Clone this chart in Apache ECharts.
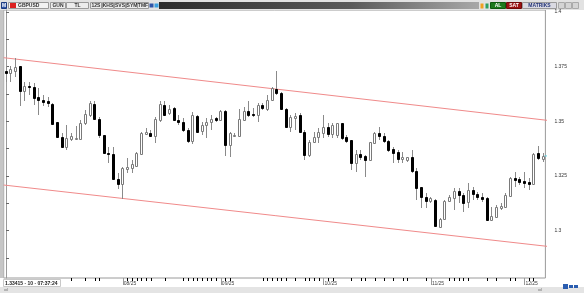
<!DOCTYPE html>
<html><head><meta charset="utf-8">
<script src="https://cdn.jsdelivr.net/npm/echarts@6/dist/echarts.min.js"></script>
<style>html,body{margin:0;padding:0;background:#fff;}#c{width:584px;height:293px;}</style>
</head><body><div id="c"></div>
<script>
const dates = ['06/27','06/30',
'07/01','07/02','07/03','07/04','07/07','07/08','07/09','07/10','07/11','07/14','07/15','07/16','07/17','07/18','07/21','07/22','07/23','07/24','07/25','07/28','07/29','07/30','07/31',
'08/01','08/04','08/05','08/06','08/07','08/08','08/11','08/12','08/13','08/14','08/15','08/18','08/19','08/20','08/21','08/22','08/25','08/26','08/27','08/28','08/29',
'09/01','09/02','09/03','09/04','09/05','09/08','09/09','09/10','09/11','09/12','09/15','09/16','09/17','09/18','09/19','09/22','09/23','09/24','09/25','09/26','09/29','09/30',
'10/01','10/02','10/03','10/06','10/07','10/08','10/09','10/10','10/13','10/14','10/15','10/16','10/17','10/20','10/21','10/22','10/23','10/24','10/27','10/28','10/29','10/30','10/31',
'11/03','11/04','11/05','11/06','11/07','11/10','11/11','11/12','11/13','11/14','11/17','11/18','11/19','11/20','11/21','11/24','11/25','11/26','11/27','11/28',
'12/01','12/02','12/03','12/04','12/05'];

const openP = [1.3732,1.3723,1.3728,1.3751,1.3639,1.3662,1.3659,1.3610,1.3598,1.3591,
1.3580,1.3495,1.3428,1.3385,1.3418,1.3418,1.3418,1.3492,1.3530,1.3578,
1.3513,1.3438,1.3357,1.3351,1.3236,1.3214,1.3283,1.3286,1.3296,1.3351,
1.3443,1.3446,1.3431,1.3507,1.3575,1.3537,1.3560,1.3507,1.3495,1.3461,
1.3412,1.3525,1.3458,1.3484,1.3499,1.3514,1.3507,1.3549,1.3392,1.3434,
1.3434,1.3507,1.3549,1.3534,1.3530,1.3575,1.3556,1.3598,1.3649,1.3629,
1.3556,1.3476,1.3514,1.3529,1.3453,1.3346,1.3407,1.3430,1.3445,1.3476,
1.3442,1.3438,1.3491,1.3427,1.3415,1.3308,1.3351,1.3342,1.3323,1.3403,
1.3445,1.3433,1.3412,1.3372,1.3362,1.3327,1.3323,1.3339,1.3275,1.3198,
1.3153,1.3138,1.3141,1.3015,1.3052,1.3137,1.3148,1.3183,1.3164,1.3133,
1.3186,1.3168,1.3153,1.3148,1.3049,1.3064,1.3103,1.3107,1.3159,1.3240,
1.3235,1.3229,1.3224,1.3214,1.3354,1.3330];

const closeP = [1.3720,1.3738,1.3748,1.3639,1.3662,1.3655,1.3609,1.3598,1.3588,1.3583,
1.3489,1.3428,1.3385,1.3423,1.3431,1.3423,1.3492,1.3534,1.3583,1.3510,
1.3438,1.3357,1.3351,1.3236,1.3214,1.3286,1.3290,1.3306,1.3357,1.3446,
1.3453,1.3434,1.3510,1.3580,1.3530,1.3556,1.3507,1.3495,1.3461,1.3412,
1.3530,1.3453,1.3484,1.3499,1.3510,1.3507,1.3549,1.3392,1.3446,1.3438,
1.3510,1.3549,1.3530,1.3528,1.3575,1.3560,1.3598,1.3652,1.3629,1.3556,
1.3473,1.3518,1.3525,1.3453,1.3346,1.3407,1.3427,1.3453,1.3476,1.3442,
1.3483,1.3491,1.3423,1.3412,1.3308,1.3351,1.3336,1.3323,1.3407,1.3445,
1.3433,1.3412,1.3369,1.3357,1.3327,1.3336,1.3336,1.3275,1.3194,1.3153,
1.3138,1.3148,1.3022,1.3052,1.3137,1.3153,1.3183,1.3164,1.3128,1.3186,
1.3168,1.3153,1.3144,1.3049,1.3067,1.3107,1.3113,1.3164,1.3240,1.3232,
1.3224,1.3217,1.3214,1.3351,1.3331,1.3342];

const highP = [1.3751,1.3751,1.3789,1.3753,1.3682,1.3682,1.3674,1.3652,1.3621,1.3613,
1.3583,1.3499,1.3446,1.3484,1.3446,1.3479,1.3507,1.3553,1.3591,1.3591,
1.3519,1.3438,1.3385,1.3385,1.3263,1.3293,1.3332,1.3324,1.3362,1.3453,
1.3469,1.3461,1.3522,1.3595,1.3595,1.3575,1.3565,1.3530,1.3514,1.3469,
1.3545,1.3530,1.3499,1.3514,1.3530,1.3522,1.3553,1.3550,1.3453,1.3446,
1.3556,1.3565,1.3591,1.3560,1.3583,1.3586,1.3621,1.3659,1.3728,1.3632,
1.3560,1.3529,1.3537,1.3537,1.3461,1.3415,1.3453,1.3468,1.3529,1.3491,
1.3491,1.3494,1.3494,1.3438,1.3415,1.3369,1.3369,1.3346,1.3407,1.3453,
1.3476,1.3445,1.3415,1.3384,1.3369,1.3362,1.3339,1.3369,1.3285,1.3202,
1.3171,1.3156,1.3144,1.3057,1.3141,1.3164,1.3194,1.3194,1.3171,1.3217,
1.3202,1.3179,1.3171,1.3156,1.3110,1.3118,1.3125,1.3171,1.3247,1.3270,
1.3247,1.3270,1.3240,1.3354,1.3387,1.3354];

const lowP = [1.3682,1.3682,1.3705,1.3568,1.3591,1.3621,1.3575,1.3530,1.3568,1.3565,
1.3487,1.3423,1.3377,1.3370,1.3408,1.3415,1.3415,1.3484,1.3522,1.3507,
1.3423,1.3354,1.3309,1.3233,1.3190,1.3144,1.3263,1.3263,1.3293,1.3351,
1.3438,1.3431,1.3403,1.3499,1.3525,1.3530,1.3504,1.3484,1.3453,1.3403,
1.3397,1.3446,1.3438,1.3423,1.3461,1.3499,1.3507,1.3342,1.3339,1.3431,
1.3431,1.3504,1.3522,1.3519,1.3499,1.3553,1.3549,1.3595,1.3621,1.3553,
1.3469,1.3453,1.3461,1.3445,1.3323,1.3336,1.3400,1.3400,1.3423,1.3430,
1.3423,1.3423,1.3415,1.3400,1.3278,1.3270,1.3323,1.3247,1.3320,1.3400,
1.3415,1.3400,1.3362,1.3308,1.3308,1.3308,1.3316,1.3263,1.3141,1.3103,
1.3103,1.3125,1.3019,1.3011,1.3049,1.3133,1.3095,1.3125,1.3087,1.3102,
1.3141,1.3141,1.3133,1.3046,1.3046,1.3057,1.3095,1.3103,1.3153,1.3202,
1.3209,1.3194,1.3186,1.3209,1.3323,1.3316];

// channel trend lines (anchor index, price)
const channelX = [-0.5, 117];
const upperChannel = [1.3791, 1.3502];
const lowerChannel = [1.3209, 1.2926];

// last-price marker span (index units)
const lastMarkX = [115.3, 116.6];

// y-axis ticks and labels
const yLabels = [1.3, 1.325, 1.35, 1.375, 1.4];
const yTicks = [1.2875, 1.3, 1.3125, 1.325, 1.3375, 1.35, 1.3625, 1.375, 1.3875, 1.4];
const yMin = 1.2784, yMax = 1.4009;

// news / event markers along the time axis (candle indices)
const eventIdx = [14,17,19,20,26,27,28,29,30,31,34,38,39,40,41,42,43,44,45,47,48,55,56,57,58,59,60,62,64,65,66,67,69,70,74,76,77,79,81,83,85,86,90,95,96,97,98,99,103,105,108,109,112,113];

const statusText = '1.33415 - 10 - 07:37:24';

const candleData = dates.map((d, i) => [i, openP[i], closeP[i], lowP[i], highP[i]]);
const eventSet = new Set(eventIdx);
const isMonthStart = (i) => i > 10 && dates[i].slice(0, 2) !== dates[i - 1].slice(0, 2);
const lastClose = closeP[closeP.length - 1];

const FONT = 'Liberation Sans';
function box(x, y, w, h, fill, stroke, label, color) {
  const els = [{type:'rect', shape:{x:x+0.5, y:y+0.5, width:w, height:h}, style:{fill:fill, stroke:stroke||null, lineWidth:1}}];
  if (label) els.push({type:'text', x:x+w/2+0.5, y:y+h/2+1, style:{text:label, fill:color||'#333', font:'bold 5px ' + FONT, align:'center', verticalAlign:'middle'}});
  return els;
}
const graphics = [].concat(
  [{type:'rect', shape:{x:0, y:0, width:584, height:10}, style:{fill:'#e2e2e2'}}],
  box(1, 2, 5, 6, '#2f55a8', '#1c3a80', 'M', '#fff'),
  box(8, 2, 40, 6, '#f3f3f3', '#9a9a9a'),
  [{type:'rect', shape:{x:10, y:3, width:6, height:5}, style:{fill:'#d22'}},
   {type:'text', x:18, y:6, style:{text:'GBPUSD', fill:'#333', font:'bold 5px ' + FONT, verticalAlign:'middle'}}],
  box(50, 2, 15, 6, '#ececec', '#9a9a9a', 'GUN'),
  box(66, 2, 22, 6, '#ececec', '#9a9a9a', 'TL'),
  box(90, 2, 11, 6, '#ececec', '#9a9a9a', '12S'),
  box(102, 2, 11, 6, '#ececec', '#9a9a9a', 'KHS'),
  box(114, 2, 11, 6, '#ececec', '#9a9a9a', 'SVS'),
  box(126, 2, 11, 6, '#ececec', '#9a9a9a', 'SYM'),
  box(137, 2, 11, 6, '#ececec', '#9a9a9a', 'TMF'),
  box(149, 3, 4, 4, '#2f55a8', null),
  box(154, 3, 4, 4, '#3aa0e0', null),
  [{type:'rect', shape:{x:159, y:2, width:320, height:7}, style:{fill:{type:'linear', x:0, y:0, x2:1, y2:0, colorStops:[{offset:0, color:'#2c2c2c'},{offset:0.6, color:'#5a5a5a'},{offset:1, color:'#a8a8a8'}]}}}],
  box(480, 3, 3, 5, '#f0a020', null),
  box(485, 3, 3, 5, '#2fa060', null),
  box(490, 2, 15, 6, '#1d7a1d', '#0f5a0f', 'AL', '#fff'),
  box(506, 2, 15, 6, '#9c1212', '#700a0a', 'SAT', '#fff'),
  box(522, 2, 34, 6, '#dadae2', '#9a9a9a', 'MATRIKS', '#223377'),
  box(558, 2, 6, 6, '#d4d4d4', '#aaa'),
  box(565, 2, 6, 6, '#d4d4d4', '#aaa'),
  box(572, 2, 6, 6, '#d4d4d4', '#aaa'),
  [{type:'rect', shape:{x:0, y:10, width:3.5, height:268}, style:{fill:'#c6c6c6'}},
   {type:'rect', shape:{x:0, y:287, width:584, height:6}, style:{fill:'#e4e4e4'}},
   {type:'rect', z:100, shape:{x:3.5, y:279.5, width:57, height:7}, style:{fill:'#fff', stroke:'#c8c8c8', lineWidth:1}},
   {type:'text', z:101, x:5, y:283.5, style:{text:statusText, fill:'#222', font:'bold 5px ' + FONT, verticalAlign:'middle'}},
   {type:'text', x:4, y:290, style:{text:'ıııl', fill:'#666', font:'4px ' + FONT, verticalAlign:'middle'}},
   {type:'text', x:538, y:290, style:{text:'ıııl', fill:'#666', font:'4px ' + FONT, verticalAlign:'middle'}},
   {type:'rect', shape:{x:563, y:284, width:5, height:5}, style:{fill:'#2a5db0'}},
   {type:'rect', shape:{x:569, y:285, width:4, height:3}, style:{fill:'#2a5db0'}},
   {type:'rect', shape:{x:574, y:285, width:4, height:3}, style:{fill:'#2a5db0'}}]
);

const chart = echarts.init(document.getElementById('c'), null, {renderer:'canvas'});
chart.setOption({
  animation: false,
  backgroundColor: '#fff',
  textStyle: {fontFamily: FONT},
  grid: {left: 3.7, right: 38.6, top: 10, bottom: 15, show: true, borderColor: '#9a9a9a', borderWidth: 1, backgroundColor: '#fff'},
  xAxis: [
    {type:'category', data: dates, boundaryGap: true,
     axisLine:{show:false},
     axisTick:{show:true, alignWithLabel:true, interval:(i) => isMonthStart(i), length:7, lineStyle:{color:'#999'}},
     axisLabel:{show:true, interval:(i) => isMonthStart(i), formatter:(v) => v.slice(0,2) + '/25', align:'left', margin:3, fontSize:5, color:'#444', padding:[0,0,0,1]},
     splitLine:{show:false}},
    {type:'category', data: dates, boundaryGap: true, position:'bottom',
     axisLine:{show:false},
     axisTick:{show:true, alignWithLabel:true, interval:(i) => eventSet.has(i), length:3, lineStyle:{color:'#000'}},
     axisLabel:{show:false}, splitLine:{show:false}},
    {type:'value', min:-0.5, max:dates.length - 0.5, show:false}
  ],
  yAxis: [{type:'value', position:'right', min:yMin, max:yMax, offset:7, scale:true,
    axisLine:{show:true, lineStyle:{color:'#9a9a9a'}},
    axisTick:{show:true, customValues:yTicks, length:3, lineStyle:{color:'#666'}},
    axisLabel:{show:true, customValues:yLabels, fontSize:5, color:'#333', margin:2, formatter:(v) => String(v)},
    splitLine:{show:false}}],
  graphic: graphics,
  series: [
    {type:'line', xAxisIndex:2, data: channelX.map((x, k) => [x, upperChannel[k]]), clip:false, symbol:'none', silent:true,
     lineStyle:{color:'#f08a8a', width:1}, z:1},
    {type:'line', xAxisIndex:2, data: channelX.map((x, k) => [x, lowerChannel[k]]), clip:false, symbol:'none', silent:true,
     lineStyle:{color:'#f08a8a', width:1}, z:1},
    {type:'line', xAxisIndex:2, data: lastMarkX.map((x) => [x, lastClose]), clip:false, symbol:'none', silent:true,
     lineStyle:{color:'#5fd0e0', width:1}, z:4},
    {type:'custom', xAxisIndex:0, data: candleData, encode:{x:0, y:[1,2,3,4]}, z:3,
     renderItem: function (params, api) {
       const i = api.value(0), o = api.value(1), c = api.value(2), l = api.value(3), h = api.value(4);
       const po = api.coord([i, o]), pc = api.coord([i, c]), pl = api.coord([i, l]), ph = api.coord([i, h]);
       const col = Math.floor(po[0]);
       const bull = c >= o;
       const top = Math.round(Math.min(po[1], pc[1]));
       const bot = Math.round(Math.max(po[1], pc[1]));
       const hh = Math.max(bot - top, 1);
       return {type:'group', children:[
         {type:'line', shape:{x1:col+0.5, y1:Math.round(ph[1]), x2:col+0.5, y2:Math.round(pl[1])}, style:{stroke:'#8a8a8a', lineWidth:1}},
         {type:'rect', shape:{x:col-0.5, y:top+0.5, width:2, height:hh}, style:{fill: bull ? '#fff' : '#000', stroke: bull ? '#7a7a7a' : '#000', lineWidth:1}}
       ]};
     }}
  ]
});
</script></body></html>
